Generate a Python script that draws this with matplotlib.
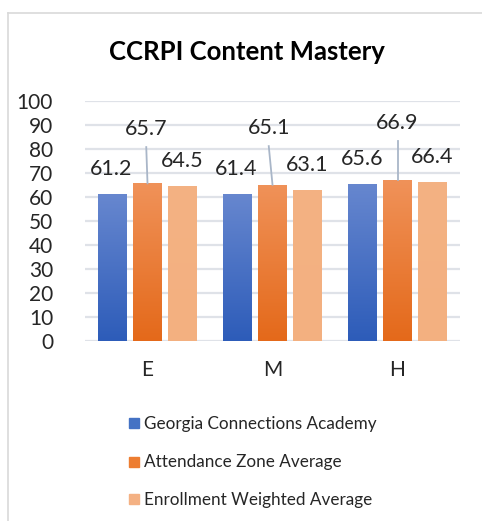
import matplotlib
matplotlib.use("Agg")
import matplotlib.pyplot as plt
import numpy as np
from matplotlib.colors import LinearSegmentedColormap
from matplotlib.lines import Line2D
from matplotlib.patches import Rectangle

plt.rcParams['font.family'] = ['Lato', 'DejaVu Sans']

categories = ["E", "M", "H"]
series_names = ["Georgia Connections Academy", "Attendance Zone Average", "Enrollment Weighted Average"]
gca_vals = [61.2, 61.4, 65.6]
aza_vals = [65.7, 65.1, 66.9]
ewa_vals = [64.5, 63.1, 66.4]
yticks = [0, 10, 20, 30, 40, 50, 60, 70, 80, 90, 100]

# label placement (data units above the bar top, horizontal shift in category units)
label_dy = [[10.5, 10.3, 10.2], [22.6, 23.6, 23.9], [10.5, 10.2, 10.3]]
label_dx = [[-0.01, -0.01, 0.0], [-0.01, -0.03, 0.0], [0.0, 0.0, 0.0]]

series = [gca_vals, aza_vals, ewa_vals]
grads = [("#6787cf", "#2d5cb9"), ("#f09259", "#e4691a"), ("#f4b283", "#f3b080")]
legend_colors = ["#4472c4", "#ed7d31", "#f4b183"]

fig = plt.figure(figsize=(4.82, 5.21), dpi=100)
W, H = 482, 521
ax = fig.add_axes([85 / W, (H - 341) / H, 375 / W, 240 / H])
ax.set_xlim(-0.5, 2.5)
ax.set_ylim(0, 100)

x = np.arange(len(categories))
width = 0.232
offsets = [-0.28, 0.0, 0.28]
grad_img = np.linspace(1, 0, 256).reshape(-1, 1)

for si, (vals, (ctop, cbot), off) in enumerate(zip(series, grads, offsets)):
    cmap = LinearSegmentedColormap.from_list("g%d" % si, [cbot, ctop])
    bars = ax.bar(x + off, vals, width=width, color="none", edgecolor="none", zorder=3)
    for b in bars:
        bx, by = b.get_x(), b.get_y()
        bw, bh = b.get_width(), b.get_height()
        im = ax.imshow(grad_img, cmap=cmap, vmin=0, vmax=1, aspect="auto",
                       extent=[bx, bx + bw, by, by + bh], zorder=3, interpolation="bilinear")
        im.set_clip_path(b)

# data labels
for si, (vals, off) in enumerate(zip(series, offsets)):
    for ci, v in enumerate(vals):
        lx = x[ci] + off + label_dx[si][ci]
        ly = v + label_dy[si][ci]
        ax.text(lx, ly, f"{v:.1f}", ha="center", va="center", fontsize=15.5,
                color="#262626", zorder=5)
        if si == 1:
            ax.plot([lx, x[ci] + off], [ly - 7.5, v], color="#a9b6c8", lw=1.3, zorder=4)

ax.set_ylim(0, 100)
ax.set_xlim(-0.5, 2.5)
ax.set_yticks(yticks)
ax.set_yticklabels([str(t) for t in yticks], fontsize=15, color="#262626")
ax.set_xticks(x)
ax.set_xticklabels(categories, fontsize=15, color="#262626")
ax.tick_params(axis="both", length=0)
ax.tick_params(axis="y", pad=23)
ax.tick_params(axis="x", pad=14)
for s in ax.spines.values():
    s.set_visible(False)
ax.grid(axis="y", color="#dfe2e8", lw=1.6, zorder=0)
ax.set_axisbelow(True)

fig.text(247 / W, 1 - 60 / H, "CCRPI Content Mastery", ha="center", va="baseline",
         fontsize=18.5, fontweight="bold", color="#000000")

# legend
rows_y = [423, 462, 499]
rows_base = [429, 467, 505]
for name, col, ry, rb in zip(series_names, legend_colors, rows_y, rows_base):
    fig.patches.append(Rectangle((129 / W, 1 - (ry + 5) / H), 10 / W, 10 / H,
                                 transform=fig.transFigure, color=col, figure=fig))
    fig.text(144 / W, 1 - rb / H, name, ha="left", va="baseline", fontsize=12.3, color="#262626")

# chart border (top and left visible)
fig.add_artist(Line2D([8 / W, 1], [1 - 13 / H, 1 - 13 / H], transform=fig.transFigure,
                      color="#d9d9d9", lw=1.2))
fig.add_artist(Line2D([8 / W, 8 / W], [1 - 13 / H, 0], transform=fig.transFigure,
                      color="#d9d9d9", lw=1.2))

fig.savefig("out.png", dpi=100, facecolor="white")
